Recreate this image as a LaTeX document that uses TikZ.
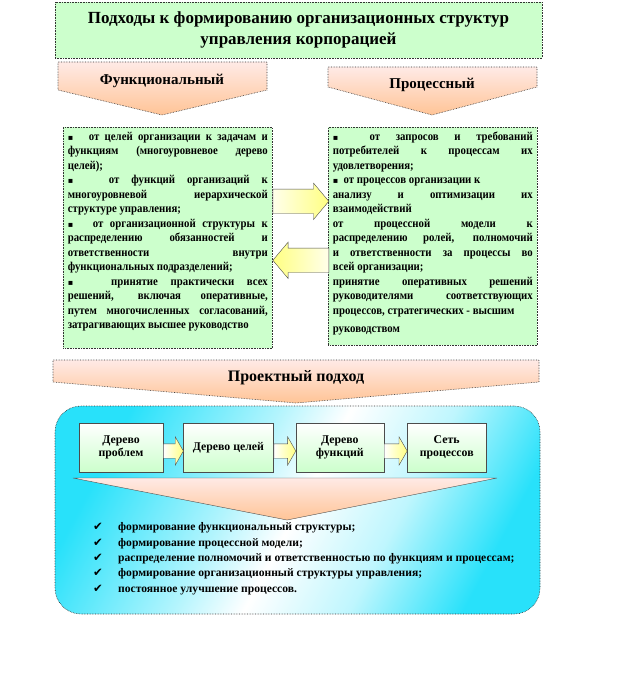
\documentclass[tikz,border=0pt]{standalone}
\usepackage{fontspec}
\setmainfont{Liberation Serif}
\newfontfamily\uzkij[FakeStretch=0.9]{Liberation Serif}
\newfontfamily\znaki{DejaVu Sans}
\usepackage{xcolor}
\usepackage{tikz}
\usetikzlibrary{shapes, arrows.meta, positioning, calc}
\definecolor{zelen}{RGB}{204,255,204}
\definecolor{rozov}{RGB}{255,234,230}
\definecolor{persik}{RGB}{255,196,150}
\definecolor{goluboy}{RGB}{40,225,250}
\definecolor{zhelt}{RGB}{255,255,130}
\pgfdeclarehorizontalshading{diagonal}{100bp}{color(0bp)=(goluboy); color(25bp)=(goluboy);
  color(42bp)=(goluboy!35!white); color(50bp)=(white); color(62bp)=(goluboy!30!white);
  color(75bp)=(goluboy); color(100bp)=(goluboy)}
\newcommand{\kv}{{\znaki\fontsize{8}{8}\selectfont ▪}}

\begin{document}
\begin{tikzpicture}[x=1pt, y=-1pt,
    ramka/.style={draw=black!80, densely dotted, line width=0.6pt},
    zagolovok/.style={ramka, fill=zelen, align=center, font=\bfseries\fontsize{17}{21}\selectfont},
    strelka/.style={ramka, top color=rozov, bottom color=persik},
    podpis/.style={font=\bfseries\fontsize{15}{17}\selectfont},
    tekstbox/.style={ramka, fill=zelen, anchor=north west, inner sep=4.5pt, font=\uzkij\bfseries\fontsize{12}{14.5}\selectfont},
    blokstrelka/.style={draw=black!70, single arrow, single arrow head extend=6pt, single arrow tip angle=100, inner xsep=0pt, inner ysep=12pt},
    malstrelka/.style={blokstrelka, single arrow head extend=7pt, single arrow tip angle=120, inner ysep=7pt, left color=white, right color=zhelt},
    etap/.style={draw=black!70, top color=white, bottom color=zelen, align=center, minimum height=49pt, inner sep=2pt, font=\bfseries\fontsize{11.8}{13.5}\selectfont}]

\fill[white] (0,0) rectangle (624,685);
\useasboundingbox (0,0) rectangle (624,685);

% zagolovok
\node[zagolovok, minimum width=487pt, minimum height=56pt] (title) at (298.5,30)
    {Подходы к формированию организационных структур\\управления корпорацией};

% dva podhoda
\shade[strelka] (58,62) -- (267,62) -- (267,90) -- (162,115) -- (58,90) -- cycle;
\node[podpis] (func) at (162,81) {Функциональный};
\shade[strelka] (328,67) -- (537,67) -- (537,87) -- (432,115) -- (328,87) -- cycle;
\node[podpis] (proc) at (432,85) {Процессный};

\node[tekstbox] (fb) at (63,127) {%
  \begin{minipage}[t][212pt][t]{200pt}
  \kv~~~от целей организации к задачам и\linebreak
  функциям (многоуровневое дерево\linebreak
  целей);\par
  \kv~~~от функций организаций к\linebreak
  многоуровневой иерархической\linebreak
  структуре управления;\par
  \kv~~~от организационной структуры к\linebreak
  распределению обязанностей и\linebreak
  ответственности внутри\linebreak
  функциональных подразделений;\par
  \kv~~~принятие практически всех\linebreak
  решений, включая оперативные,\linebreak
  путем многочисленных согласований,\linebreak
  затрагивающих высшее руководство
  \end{minipage}};

\node[tekstbox] (pb) at (328,127) {%
  \begin{minipage}[t][209pt][t]{200pt}
  \kv~~от запросов и требований\linebreak
  потребителей к процессам их\linebreak
  удовлетворения;\par
  \kv~~от процессов организации к\\
  анализу и оптимизации их\linebreak
  взаимодействий\par
  от процессной модели к\linebreak
  распределению ролей, полномочий\linebreak
  и ответственности за процессы во\linebreak
  всей организации;\par
  принятие оперативных решений\linebreak
  руководителями соответствующих\linebreak
  процессов, стратегических - высшим\par
  \vspace{4pt}руководством
  \end{minipage}};

% strelki mezhdu blokami
\node[blokstrelka, anchor=tail, minimum height=56pt, left color=yellow!8, right color=zhelt]
    (s1) at ($(fb.east)+(0,-36.5)$) {};
\node[blokstrelka, anchor=tip, minimum height=56pt, shape border rotate=180, left color=zhelt, right color=yellow!8]
    (s2) at ($(fb.east)+(0,22.5)$) {};

% proektnyj podhod
\shade[strelka] (53,360) -- (539,360) -- (539,382) -- (296,403) -- (53,382) -- cycle;
\node[podpis, font=\bfseries\fontsize{16}{18}\selectfont] (proekt) at (296,378) {Проектный подход};

\node[ramka, rounded corners=26pt, minimum width=485pt, minimum height=208pt,
      shading=diagonal, shading angle=-28]
    (pp) at (297.5,510) {};

\node[etap, minimum width=84pt] (b1) at (121,447.5) {Дерево\\проблем};
\node[etap, minimum width=90pt, right=20pt of b1] (b2) {Дерево целей};
\node[etap, minimum width=88pt, right=22pt of b2] (b3) {Дерево\\функций};
\node[etap, minimum width=79pt, right=23pt of b3] (b4) {Сеть\\процессов};

\node[malstrelka, anchor=tail, minimum height=20pt] (m1) at ($(b1.east)+(0,3.5)$) {};
\node[malstrelka, anchor=tail, minimum height=22pt] (m2) at ($(b2.east)+(0,3.5)$) {};
\node[malstrelka, anchor=tail, minimum height=23pt] (m3) at ($(b3.east)+(0,3.5)$) {};

\shade[draw=black!70, top color=rozov, bottom color=persik] (73,478) -- (497,478) -- (287,520) -- cycle;

% itogi
\node[anchor=north west, inner sep=0pt, font=\bfseries\fontsize{11.6}{15.3}\selectfont] (itog) at (93,520) {%
  \begin{tabular}{@{}p{25pt}@{}l@{}}
  {\znaki ✔} & формирование функциональный структуры;\\
  {\znaki ✔} & формирование процессной модели;\\
  {\znaki ✔} & распределение полномочий и ответственностью по функциям и процессам;\\
  {\znaki ✔} & формирование организационный структуры управления;\\
  {\znaki ✔} & постоянное улучшение процессов.
  \end{tabular}};
\end{tikzpicture}
\end{document}
